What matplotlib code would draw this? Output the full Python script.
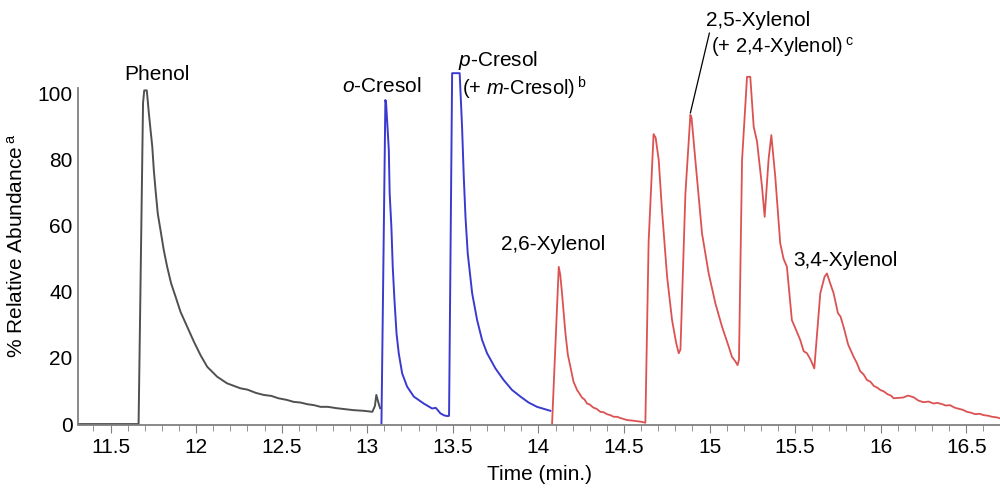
import matplotlib
matplotlib.use('Agg')
import matplotlib.pyplot as plt

plt.rcParams['font.family'] = ['Liberation Sans', 'DejaVu Sans']
plt.rcParams['mathtext.fontset'] = 'custom'
plt.rcParams['mathtext.rm'] = 'Liberation Sans'
plt.rcParams['mathtext.it'] = 'Liberation Sans:italic'

# phenol segment (grey)
grey_t = [11.31, 11.664, 11.690, 11.697, 11.712, 11.724, 11.734, 11.744, 11.753, 11.763,
          11.776, 11.792, 11.811, 11.831, 11.854, 11.880, 11.909, 11.948, 11.987, 12.026,
          12.065, 12.123, 12.181, 12.259, 12.30, 12.35, 12.395, 12.44, 12.48, 12.53,
          12.57, 12.61, 12.65, 12.69, 12.727, 12.77, 12.82, 12.87, 12.92, 12.98,
          13.03, 13.045, 13.053, 13.065, 13.075]
grey_v = [0, 0, 97, 100.8, 100.8, 93.9, 88.8, 83.8, 76.7, 70.7,
          63.6, 58.6, 52.6, 47.5, 42.5, 38.5, 33.9, 29.4, 24.9, 20.8,
          17.3, 14.3, 12.3, 10.8, 10.4, 9.4, 8.8, 8.5, 7.8, 7.3,
          6.7, 6.5, 6.0, 5.7, 5.2, 5.2, 4.8, 4.5, 4.2, 4.0,
          3.7, 5.5, 8.8, 6.5, 4.8]

# cresol segment (blue)
blue_t = [13.083, 13.106, 13.110, 13.116, 13.126, 13.131, 13.141, 13.149, 13.159, 13.171,
          13.184, 13.204, 13.233, 13.272, 13.330, 13.379, 13.400, 13.412, 13.428, 13.450,
          13.470, 13.478, 13.496, 13.540, 13.554, 13.564, 13.574, 13.587, 13.613, 13.642,
          13.671, 13.70, 13.749, 13.797, 13.846, 13.895, 13.943, 13.992, 14.07]
blue_v = [0.3, 97.9, 97.0, 91.8, 82.8, 69.7, 59.6, 47.5, 37.5, 27.4,
          21.4, 15.3, 11.3, 8.3, 6.2, 4.7, 4.9, 4.2, 3.2, 2.6,
          2.4, 2.5, 106, 106, 89.8, 74.7, 62.6, 51.6, 39.5, 31.4,
          25.4, 21.4, 16.8, 13.3, 10.3, 8.3, 6.5, 5.2, 4.0]

# xylenol segment (red)
red_t = [14.080, 14.119, 14.128, 14.138, 14.158, 14.172, 14.187, 14.205, 14.226, 14.240,
         14.255, 14.270, 14.284, 14.30, 14.32, 14.34, 14.362, 14.38, 14.40, 14.42,
         14.44, 14.46, 14.48, 14.50, 14.518, 14.54, 14.57, 14.60, 14.625, 14.644,
         14.673, 14.685, 14.703, 14.722, 14.752, 14.781, 14.805, 14.820, 14.830, 14.859,
         14.888, 14.895, 14.917, 14.956, 14.995, 15.034, 15.073, 15.112, 15.131, 15.150,
         15.164, 15.172, 15.19, 15.219, 15.238, 15.258, 15.277, 15.306, 15.322, 15.345,
         15.361, 15.384, 15.413, 15.432, 15.452, 15.481, 15.505, 15.530, 15.550, 15.569,
         15.590, 15.612, 15.647, 15.672, 15.686, 15.705, 15.725, 15.75, 15.765, 15.783,
         15.81, 15.842, 15.86, 15.88, 15.90, 15.920, 15.94, 15.96, 15.98, 15.998,
         16.02, 16.04, 16.06, 16.075, 16.10, 16.13, 16.16, 16.192, 16.22, 16.25,
         16.28, 16.309, 16.33, 16.36, 16.38, 16.406, 16.43, 16.45, 16.48, 16.504,
         16.53, 16.55, 16.58, 16.60, 16.63, 16.65, 16.68, 16.698]
red_v = [0.2, 47.5, 45.0, 39.5, 27.4, 21.0, 17.3, 12.8, 10.3, 9.2,
         8.0, 7.4, 6.2, 5.9, 5.0, 4.6, 3.7, 3.6, 3.0, 2.7,
         2.2, 2.2, 1.8, 1.5, 1.2, 1.1, 0.9, 0.7, 0.4, 55,
         87.6, 86.5, 79.8, 64.7, 44.5, 31.4, 24.5, 21.4, 22.5, 69.7,
         93.4, 92.5, 79.8, 57.6, 45.5, 36.5, 29.4, 23.4, 20.3, 19.0,
         17.8, 19.5, 79.8, 104.9, 104.9, 89.8, 85.5, 72.0, 62.6, 80,
         87.3, 74.7, 54.6, 50, 47.5, 31.4, 28.5, 25.4, 22.0, 21.4,
         19.5, 16.8, 39.5, 44.5, 45.5, 42.5, 39.5, 33.5, 32.5, 29.4,
         24.0, 20.3, 18.5, 16.0, 15.0, 13.3, 12.8, 11.5, 11.0, 10.3,
         9.8, 9.0, 8.6, 7.8, 7.9, 8.0, 8.6, 8.1, 7.1, 6.6,
         6.8, 6.2, 6.4, 6.0, 5.6, 5.7, 5.0, 4.7, 4.3, 3.7,
         3.4, 3.0, 3.1, 2.7, 2.5, 2.2, 2.0, 1.7]

x_ticks = [11.5, 12, 12.5, 13, 13.5, 14, 14.5, 15, 15.5, 16, 16.5]
x_labels = ['11.5', '12', '12.5', '13', '13.5', '14', '14.5', '15', '15.5', '16', '16.5']
y_ticks = [0, 20, 40, 60, 80, 100]

fig = plt.figure(figsize=(10, 4.88), dpi=100)
ax = fig.add_axes([0.078, 0.129, 0.9225, 0.7346])

ax.plot(grey_t, grey_v, color='#505050', lw=1.4, clip_on=False)
ax.plot(blue_t, blue_v, color='#3a3ad0', lw=1.4, clip_on=False)
ax.plot(red_t, red_v, color='#dc5252', lw=1.3, clip_on=False)

ax.set_xlim(11.31, 16.70)
ax.set_ylim(-0.3, 108)

for s in ['top', 'right']:
    ax.spines[s].set_visible(False)
ax.spines['left'].set_bounds(0, 101.5)
for s in ['left', 'bottom']:
    ax.spines[s].set_color('#808080')
    ax.spines[s].set_linewidth(1.3)

ax.set_xticks(x_ticks)
ax.set_xticklabels(x_labels)
ax.set_xticks([11.4 + 0.1 * i for i in range(54) if round((11.4 + 0.1 * i) * 10) % 5 != 0], minor=True)
ax.set_yticks(y_ticks)
ax.tick_params(axis='x', which='major', length=6, color='#808080', labelsize=15, pad=3)
ax.tick_params(axis='x', which='minor', length=4, color='#808080')
ax.tick_params(axis='y', length=0, labelsize=15, pad=4)

ax.set_xlabel('Time (min.)', fontsize=15, labelpad=6)
ax.set_ylabel(r'% Relative Abundance$\,^{\mathrm{a}}$', fontsize=15, labelpad=8)

fs = 15
ax.text(11.769, 105.7, 'Phenol', fontsize=fs, ha='center', va='center')
ax.text(13.083, 102.1, r'$\mathit{o}$-Cresol', fontsize=fs, ha='center', va='center')
ax.text(13.533, 109.7, r'$\mathit{p}$-Cresol', fontsize=fs, ha='left', va='center')
ax.text(13.556, 101.5, r'(+ $\mathit{m}$-Cresol)$\,^{\mathrm{b}}$', fontsize=14.5, ha='left', va='center')
ax.text(14.088, 54.1, '2,6-Xylenol', fontsize=fs, ha='center', va='center')
ax.text(14.981, 122.0, '2,5-Xylenol', fontsize=fs, ha='left', va='center')
ax.text(15.01, 113.9, r'(+ 2,4-Xylenol)$\,^{\mathrm{c}}$', fontsize=14.5, ha='left', va='center')
ax.text(15.49, 49.5, '3,4-Xylenol', fontsize=fs, ha='left', va='center')
ax.plot([14.999, 14.888], [118.1, 94.0], color='black', lw=0.9, clip_on=False)

fig.savefig('out.png', dpi=100)
